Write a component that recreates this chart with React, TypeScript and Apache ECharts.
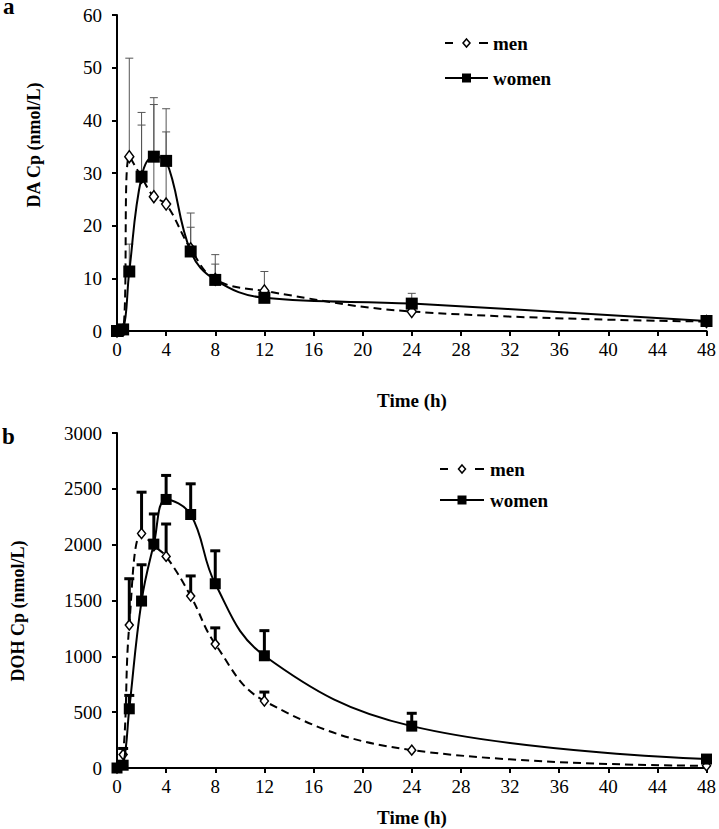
import React, { useEffect, useRef } from "react";
import * as echarts from "echarts";

const TIMES = [0, 0.5, 1, 2, 3, 4, 6, 8, 12, 24, 48];
const DA_MEN = [0, 0.2, 33.1, 29.2, 25.5, 24.1, 15.6, 9.8, 7.6, 3.7, 1.8];
const DA_WOMEN = [0, 0.3, 11.3, 29.3, 33.1, 32.3, 15.1, 9.7, 6.3, 5.2, 1.9];
const DA_MEN_UPPER = [null, null, 51.8, 41.5, 43.0, 37.8, 19.7, 12.7, 11.3, null, null];
const DA_WOMEN_UPPER = [null, null, 16.5, 39.1, 44.3, 42.2, 22.4, 14.5, null, 7.15, null];

const DOH_MEN = [0, 120, 1280, 2100, 1990, 1895, 1540, 1110, 600, 160, 20];
const DOH_WOMEN = [0, 25, 530, 1495, 2005, 2405, 2270, 1650, 1005, 375, 80];
const DOH_MEN_UPPER = [null, 175, 1695, 2470, null, 2185, 1720, 1255, 680, null, null];
const DOH_WOMEN_UPPER = [null, null, 650, 1820, 2275, 2620, 2545, 1945, 1230, 490, null];

const SERIES_NAMES = ["men", "women"];
const X_TITLE = "Time (h)";
const Y_TITLES = ["DA Cp (nmol/L)", "DOH Cp (nmol/L)"];
const PANEL_LABELS = ["a", "b"];

const FONT = "'Liberation Serif', 'Times New Roman', serif";

function pairs(vals: number[]) {
  return TIMES.map((t, i) => [t, vals[i]]);
}
function errData(vals: number[], upper: (number | null)[]) {
  const out: number[][] = [];
  TIMES.forEach((t, i) => {
    if (upper[i] != null) out.push([t, vals[i], upper[i] as number]);
  });
  return out;
}

function errSeries(idx: number, data: number[][], color: string, lw: number, hw: number) {
  return {
    type: "custom",
    xAxisIndex: idx,
    yAxisIndex: idx,
    z: 1,
    silent: true,
    data,
    encode: { x: 0, y: [1, 2] },
    renderItem: (params: any, api: any) => {
      const x = api.value(0);
      const v = api.value(1);
      const top = api.value(2);
      const p0 = api.coord([x, v]);
      const p1 = api.coord([x, top]);
      const style = { stroke: color, lineWidth: lw };
      return {
        type: "group",
        children: [
          { type: "line", shape: { x1: p0[0], y1: p0[1], x2: p1[0], y2: p1[1] }, style },
          { type: "line", shape: { x1: p1[0] - hw, y1: p1[1], x2: p1[0] + hw, y2: p1[1] }, style },
        ],
      };
    },
  };
}

function menSeries(idx: number, vals: number[], size: number[]) {
  return {
    name: SERIES_NAMES[0],
    type: "line",
    xAxisIndex: idx,
    yAxisIndex: idx,
    z: 2,
    smooth: 0.4,
    data: pairs(vals),
    symbol: "diamond",
    symbolSize: size,
    lineStyle: { color: "#000", width: 2, type: [8, 5] },
    itemStyle: { color: "#fff", borderColor: "#000", borderWidth: 1.5 },
  };
}
function womenSeries(idx: number, vals: number[], size: number) {
  return {
    name: SERIES_NAMES[1],
    type: "line",
    xAxisIndex: idx,
    yAxisIndex: idx,
    z: 3,
    smooth: 0.4,
    data: pairs(vals),
    symbol: "rect",
    symbolSize: size,
    lineStyle: { color: "#000", width: 2 },
    itemStyle: { color: "#000" },
  };
}

function xAxis(idx: number) {
  return {
    type: "value",
    gridIndex: idx,
    min: 0,
    max: 48,
    interval: 4,
    axisLine: { show: true, onZero: false, lineStyle: { color: "#000", width: 2 } },
    axisTick: { show: true, inside: false, length: 5, lineStyle: { color: "#000", width: 2 } },
    splitLine: { show: false },
    axisLabel: { color: "#000", fontFamily: FONT, fontSize: 19, margin: 9 },
  };
}
function yAxis(idx: number, max: number, interval: number) {
  return {
    type: "value",
    gridIndex: idx,
    min: 0,
    max,
    interval,
    axisLine: { show: true, onZero: false, lineStyle: { color: "#000", width: 2 } },
    axisTick: { show: true, inside: false, length: 5, lineStyle: { color: "#000", width: 2 } },
    splitLine: { show: false },
    axisLabel: {
      color: "#000",
      fontFamily: FONT,
      fontSize: 19,
      margin: 15,
      formatter: (v: number) => String(v),
    },
  };
}

function legend(x0: number, x1: number, yMen: number, yWomen: number, textX: number, sq: number) {
  const mid = (x0 + x1) / 2;
  const lineStyle = { stroke: "#000", lineWidth: 2 };
  const txt = { font: `bold 19px ${FONT}`, fill: "#000", textVerticalAlign: "middle", textAlign: "left" };
  return [
    { type: "line", shape: { x1: x0, y1: yMen, x2: x0 + 8, y2: yMen }, style: lineStyle },
    { type: "line", shape: { x1: x1 - 9, y1: yMen, x2: x1, y2: yMen }, style: lineStyle },
    {
      type: "polygon",
      shape: { points: [[mid, yMen - 4], [mid + 3.5, yMen], [mid, yMen + 4], [mid - 3.5, yMen]] },
      style: { fill: "#fff", stroke: "#000", lineWidth: 1.5 },
    },
    { type: "text", x: textX, y: yMen, style: { ...txt, text: SERIES_NAMES[0] } },
    { type: "line", shape: { x1: x0, y1: yWomen, x2: x1, y2: yWomen }, style: lineStyle },
    { type: "rect", shape: { x: mid - sq / 2, y: yWomen - sq / 2, width: sq, height: sq }, style: { fill: "#000" } },
    { type: "text", x: textX, y: yWomen, style: { ...txt, text: SERIES_NAMES[1] } },
  ];
}

export default function App() {
  const ref = useRef<HTMLDivElement>(null);
  useEffect(() => {
    if (!ref.current) return;
    const chart = echarts.init(ref.current, null, { renderer: "svg" });
    const titleFont = `bold 18px ${FONT}`;
    chart.setOption({
      animation: false,
      backgroundColor: "#fff",
      grid: [
        { left: 117, top: 15, right: 12, height: 316 },
        { left: 117, top: 433, right: 12, height: 335 },
      ],
      xAxis: [xAxis(0), xAxis(1)],
      yAxis: [yAxis(0, 60, 10), yAxis(1, 3000, 500)],
      series: [
        errSeries(0, errData(DA_MEN, DA_MEN_UPPER), "#555", 1, 4),
        errSeries(0, errData(DA_WOMEN, DA_WOMEN_UPPER), "#555", 1, 4),
        menSeries(0, DA_MEN, [9, 12]),
        womenSeries(0, DA_WOMEN, 12),
        errSeries(1, errData(DOH_MEN, DOH_MEN_UPPER), "#000", 3, 5),
        errSeries(1, errData(DOH_WOMEN, DOH_WOMEN_UPPER), "#000", 3, 5),
        menSeries(1, DOH_MEN, [8, 10]),
        womenSeries(1, DOH_WOMEN, 11),
      ],
      graphic: [
        { type: "text", x: 3, y: 18, style: { text: PANEL_LABELS[0], font: `bold 23px ${FONT}`, fill: "#000", textVerticalAlign: "bottom" } },
        { type: "text", x: 2, y: 448, style: { text: PANEL_LABELS[1], font: `bold 23px ${FONT}`, fill: "#000", textVerticalAlign: "bottom" } },
        { type: "text", x: 34, y: 145, rotation: Math.PI / 2, style: { text: Y_TITLES[0], font: titleFont, fill: "#000", textAlign: "center", textVerticalAlign: "middle" } },
        { type: "text", x: 18, y: 611, rotation: Math.PI / 2, style: { text: Y_TITLES[1], font: titleFont, fill: "#000", textAlign: "center", textVerticalAlign: "middle" } },
        { type: "text", x: 412, y: 400, style: { text: X_TITLE, font: `bold 19px ${FONT}`, fill: "#000", textAlign: "center", textVerticalAlign: "middle" } },
        { type: "text", x: 412, y: 817, style: { text: X_TITLE, font: `bold 19px ${FONT}`, fill: "#000", textAlign: "center", textVerticalAlign: "middle" } },
        ...legend(445, 488, 43, 78, 493, 9),
        ...legend(440, 484, 469, 500, 490, 9),
      ],
    });
    return () => chart.dispose();
  }, []);
  return (
    <div
      ref={ref}
      style={{ position: "fixed", left: 0, top: 0, width: 719, height: 829, background: "#fff" }}
    />
  );
}
